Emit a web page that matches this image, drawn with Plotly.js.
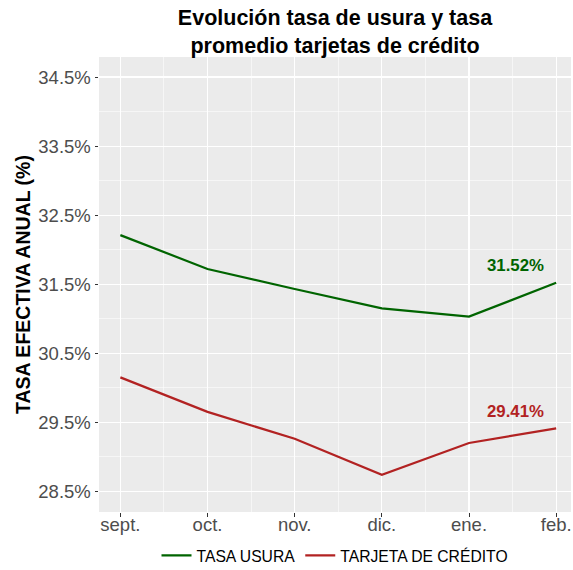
<!DOCTYPE html>
<html><head><meta charset="utf-8">
<script src="https://cdn.plot.ly/plotly-3.0.1.min.js"></script>
<style>body{margin:0;background:#fff}</style></head>
<body><div id="chart" style="width:573px;height:570px"></div>
<script>
const months = ['sept.', 'oct.', 'nov.', 'dic.', 'ene.', 'feb.'];
const tasaUsura = [32.21, 31.72, 31.43, 31.15, 31.03, 31.52];
const tarjetaCredito = [30.15, 29.65, 29.26, 28.74, 29.20, 29.41];
const seriesNames = ['TASA USURA', 'TARJETA DE CRÉDITO'];
const seriesColors = ['#006400', '#B22222'];
const yTickVals = [28.5, 29.5, 30.5, 31.5, 32.5, 33.5, 34.5];

const xIdx = months.map((m, i) => i);
const seriesVals = [tasaUsura, tarjetaCredito];
const FONT = 'Liberation Sans, Arial, sans-serif';

const traces = seriesVals.map((vals, k) => ({
  type: 'scatter',
  mode: 'lines',
  x: xIdx,
  y: vals,
  name: seriesNames[k],
  line: {color: seriesColors[k], width: 2.2},
  hoverinfo: 'x+y'
}));

const annotations = seriesVals.map((vals, k) => ({
  x: xIdx[xIdx.length - 1],
  y: vals[vals.length - 1],
  xref: 'x', yref: 'y',
  text: '<b>' + vals[vals.length - 1].toFixed(2) + '%</b>',
  showarrow: false,
  xshift: -41, yshift: 17,
  font: {family: FONT, size: 16.8, color: seriesColors[k]}
}));

const layout = {
  width: 573, height: 570,
  margin: {l: 99, r: 2, t: 57, b: 58},
  paper_bgcolor: '#ffffff',
  plot_bgcolor: '#EBEBEB',
  showlegend: true,
  title: {
    text: '<b>Evolución tasa de usura y tasa<br>promedio tarjetas de crédito</b>',
    font: {family: FONT, size: 21.5, color: '#000'},
    x: 0.5, xref: 'paper', xanchor: 'center',
    y: 0.956, yref: 'container', yanchor: 'top'
  },
  xaxis: {
    range: [-0.245, 5.17],
    tickmode: 'array', tickvals: xIdx, ticktext: months,
    showgrid: true, gridcolor: '#ffffff', gridwidth: 1.1,
    minor: {tick0: 0.5, dtick: 1, showgrid: true, gridcolor: '#ffffff', gridwidth: 0.55, ticks: ''},
    zeroline: false, showline: false,
    ticks: 'outside', ticklen: 3.5, tickwidth: 1, tickcolor: '#333333',
    ticklabelstandoff: -8,
    tickfont: {family: FONT, size: 18.5, color: '#4D4D4D'},
    fixedrange: true
  },
  yaxis: {
    range: [28.2, 34.79],
    tickmode: 'array', tickvals: yTickVals,
    ticktext: yTickVals.map(v => v.toFixed(1) + '%'),
    showgrid: true, gridcolor: '#ffffff', gridwidth: 1.1,
    minor: {tick0: 28.0, dtick: 1, showgrid: true, gridcolor: '#ffffff', gridwidth: 0.55, ticks: ''},
    zeroline: false, showline: false,
    ticks: 'outside', ticklen: 3.5, tickwidth: 1, tickcolor: '#333333',
    tickfont: {family: FONT, size: 18.5, color: '#4D4D4D'},
    title: {text: '<b>TASA EFECTIVA ANUAL (%)</b>', font: {family: FONT, size: 19.5, color: '#000'}, standoff: 2},
    fixedrange: true
  },
  legend: {
    orientation: 'h', x: 0.5, xanchor: 'center',
    yref: 'container', y: 0.025, yanchor: 'middle',
    font: {family: FONT, size: 15.7, color: '#000'},
    tracegroupgap: 0, bgcolor: 'rgba(0,0,0,0)'
  },
  annotations: annotations
};

Plotly.newPlot('chart', traces, layout, {displayModeBar: false, staticPlot: true});
</script></body></html>
